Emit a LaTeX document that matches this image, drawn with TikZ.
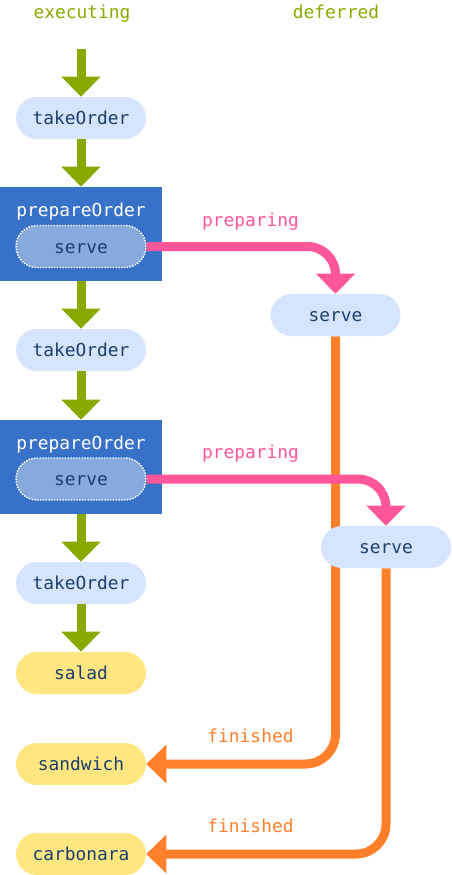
\documentclass[tikz,border=0pt]{standalone}
\usepackage{fontspec}
\setmonofont{DejaVu Sans Mono}
\usepackage{xcolor}
\usepackage{tikz}
\usetikzlibrary{positioning, arrows.meta, backgrounds}
\definecolor{execgreen}{HTML}{88AA00}
\definecolor{preppink}{HTML}{FF5599}
\definecolor{finorange}{HTML}{FF7F2A}
\definecolor{callblue}{HTML}{D5E5FF}
\definecolor{prepblue}{HTML}{3771C8}
\definecolor{innerblue}{HTML}{87AADE}
\definecolor{doneyellow}{HTML}{FFE680}
\definecolor{codeink}{HTML}{1C3F6E}
\tikzset{
  every node/.style={font=\ttfamily\fontsize{13.4}{16}\selectfont},
  call/.style={fill=callblue, text=codeink, rounded corners=15.75pt, minimum width=97.5pt,
    minimum height=31.5pt, inner sep=0pt, text height=9.8pt, text depth=0pt},
  donecall/.style={call, fill=doneyellow},
  innercall/.style={call, fill=innerblue, draw=white, densely dotted, line width=1.1pt},
  prepbox/.style={fill=prepblue, minimum width=121.5pt, minimum height=70.5pt, inner sep=0pt},
  flow/.style={draw=execgreen, line width=6.75pt, -{Triangle[length=15pt,width=28.5pt]}},
  hand/.style={draw=preppink, line width=6.75pt, rounded corners=21pt, -{Triangle[length=15pt,width=28.5pt]}},
  back/.style={draw=finorange, line width=6.75pt, rounded corners=22.5pt, -{Triangle[length=15pt,width=28pt]}},
  lbl/.style={anchor=base, inner sep=0pt}
}

\begin{document}
\begin{tikzpicture}[x=0.75pt, y=-0.75pt]
\useasboundingbox (0,0) rectangle (451,875);
\node[lbl, text=execgreen] (colexec) at (82,18) {executing};
\node[lbl, text=execgreen] (coldef) at (336,18) {deferred};
\coordinate (start) at (81,49);
% executing column
\node[call] (take1) at (81,118) {takeOrder};
\node[prepbox] (prep1) at (81,234) {};
\node[lbl, text=white] (prep1title) at (81,216) {prepareOrder};
\node[innercall] (iserve1) at (81,246.5) {serve};
\node[call] (take2) at (81,350) {takeOrder};
\node[prepbox] (prep2) at (81,467) {};
\node[lbl, text=white] (prep2title) at (81,449) {prepareOrder};
\node[innercall] (iserve2) at (81,479) {serve};
\node[call] (take3) at (81,583) {takeOrder};
\node[donecall] (salad) at (81,673) {salad};
\node[donecall] (sandwich) at (81,764) {sandwich};
\node[donecall] (carbonara) at (81,854) {carbonara};
% deferred column
\node[call] (dserve1) at (335.5,315) {serve};
\node[call] (dserve2) at (386,547) {serve};
\draw[flow] (start) -- (take1);
\draw[flow] (take1) -- (prep1);
\draw[flow] (prep1) -- (take2);
\draw[flow] (take2) -- (prep2);
\draw[flow] (prep2) -- (take3);
\draw[flow] (take3) -- (salad);
\begin{scope}[on background layer]
\draw[back] (dserve1.south) |- (sandwich.east);
\draw[back] (dserve2.south) |- (carbonara.east);
\end{scope}
\draw[hand] (iserve1.east) -| (dserve1.north);
\draw[hand] (iserve2.east) -| (dserve2.north);
\node[lbl, text=preppink] (prepare1) at (250.5,226) {preparing};
\node[lbl, text=preppink] (prepare2) at (250.5,458) {preparing};
\node[lbl, text=finorange] (finish1) at (250.5,742) {finished};
\node[lbl, text=finorange] (finish2) at (250.5,832) {finished};
\end{tikzpicture}
\end{document}
